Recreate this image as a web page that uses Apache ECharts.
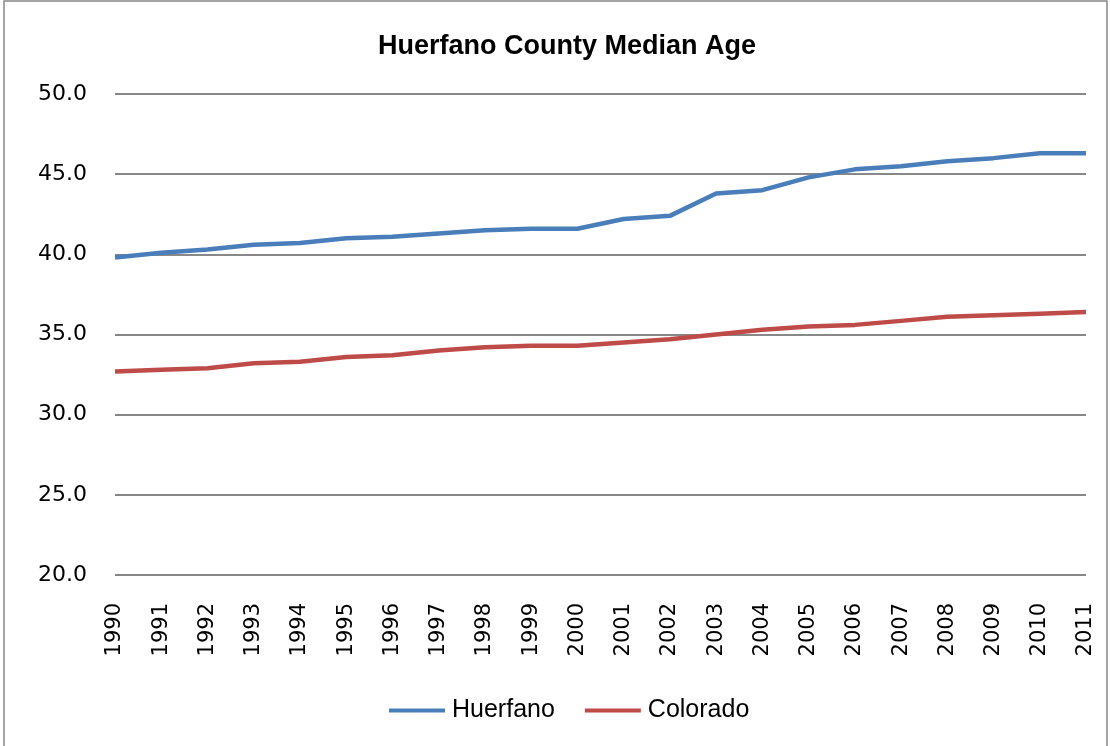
<!DOCTYPE html>
<html>
<head>
<meta charset="utf-8">
<title>Huerfano County Median Age</title>
<script src="https://cdn.jsdelivr.net/npm/echarts@6/dist/echarts.min.js"></script>
<style>
	html, body { margin: 0; padding: 0; background: #fff; }
	#main { width: 1110px; height: 746px; }
</style>
</head>
<body>
<div id="main"></div>
<script>
// data
var years = ['1990', '1991', '1992', '1993', '1994', '1995', '1996', '1997', '1998', '1999', '2000',
	'2001', '2002', '2003', '2004', '2005', '2006', '2007', '2008', '2009', '2010', '2011'];
var huerfano = [39.8, 40.1, 40.3, 40.6, 40.7, 41.0, 41.1, 41.3, 41.5, 41.6, 41.6,
	42.2, 42.4, 43.8, 44.0, 44.8, 45.3, 45.5, 45.8, 46.0, 46.3, 46.3];
var colorado = [32.7, 32.8, 32.9, 33.2, 33.3, 33.6, 33.7, 34.0, 34.2, 34.3, 34.3,
	34.5, 34.7, 35.0, 35.3, 35.5, 35.6, 35.85, 36.1, 36.2, 36.3, 36.4];
var yTicks = [20, 25, 30, 35, 40, 45, 50];

var narrow = '"Liberation Sans Narrow", "Liberation Sans", sans-serif';

function createchart() {
	var myChart = echarts.init(document.getElementById('main'));
	var option = {
		animation: false,
		color: ['#4a7ebb', '#be4b48'],
		title: {
			text: 'Huerfano County Median Age',
			left: 373,
			top: 28,
			textStyle: {
				fontFamily: narrow,
				fontWeight: 'bold',
				fontSize: 27,
				color: '#000'
			}
		},
		legend: {
			bottom: 18,
			left: 384,
			itemWidth: 56,
			itemHeight: 4,
			itemGap: 30,
			icon: 'rect',
			textStyle: {
				fontFamily: narrow,
				fontSize: 25,
				padding: [0, 0, 0, 2],
				color: '#000'
			},
			data: ['Huerfano', 'Colorado']
		},
		grid: {
			left: 115,
			right: 24,
			top: 94,
			bottom: 171,
			containLabel: false
		},
		xAxis: {
			type: 'category',
			boundaryGap: false,
			data: years,
			axisLine: { show: false },
			axisTick: { show: false },
			axisLabel: {
				rotate: 90,
				margin: 28,
				interval: 0,
				fontFamily: '"DejaVu Sans", sans-serif',
				fontSize: 21,
				color: '#000'
			}
		},
		yAxis: {
			type: 'value',
			min: yTicks[0],
			max: yTicks[yTicks.length - 1],
			interval: 5,
			axisLine: { show: false },
			axisTick: { show: false },
			axisLabel: {
				margin: 28,
				fontFamily: '"DejaVu Sans", sans-serif',
				fontSize: 22,
				color: '#000',
				formatter: function(val) {
					return val.toFixed(1);
				}
			},
			splitLine: {
				lineStyle: { color: '#888', width: 2 }
			}
		},
		graphic: [{
			type: 'rect',
			shape: { x: 4, y: 1, width: 1103, height: 800 },
			style: { fill: 'none', stroke: '#888', lineWidth: 1.5 },
			silent: true
		}],
		series: [{
			name: 'Huerfano',
			type: 'line',
			data: huerfano,
			symbol: 'none',
			lineStyle: { width: 4.5 }
		}, {
			name: 'Colorado',
			type: 'line',
			data: colorado,
			symbol: 'none',
			lineStyle: { width: 4.5 }
		}]
	};
	myChart.setOption(option);
	window.onresize = myChart.resize;
}
createchart();
</script>
</body>
</html>
